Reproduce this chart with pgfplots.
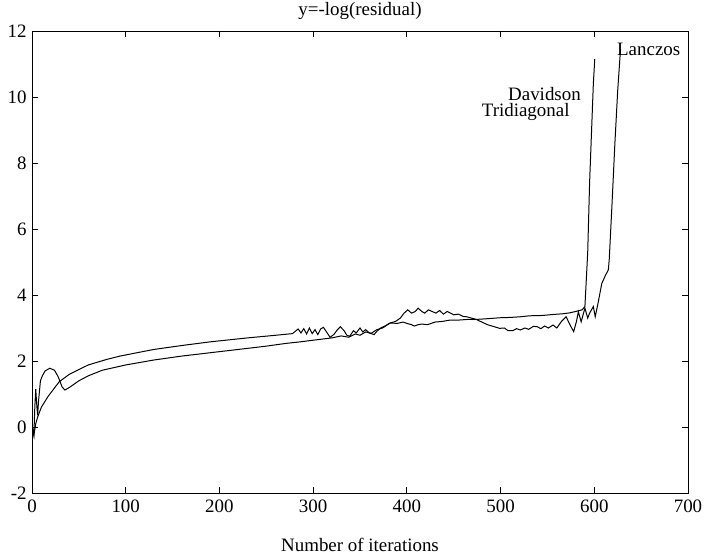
\documentclass[border=0pt]{standalone}
\usepackage{pgfplots}
\pgfplotsset{compat=1.18}
\usepackage{fontspec}
\setmainfont{Liberation Serif}
\begin{document}
\fontsize{9.5}{11}\selectfont
\begin{tikzpicture}
\begin{axis}[
  width=328bp, height=231bp, scale only axis,
  xmin=0, xmax=700, ymin=-2, ymax=12,
  clip mode=individual,
  xtick={0,100,...,700}, ytick={-2,0,...,12},
  xticklabel={\pgfmathprintnumber{\tick}},
  yticklabel={\pgfmathprintnumber{\tick}},
  tick align=inside, major tick length=3bp,
  axis line style={black, line width=0.5pt},
  every tick/.style={black, line width=0.5pt},
  /pgf/number format/assume math mode=true,
  tick label style={font=\fontsize{9.5}{11}\selectfont\rmfamily},
  xticklabel style={anchor=north, inner sep=0pt, yshift=-3.5bp},
  yticklabel style={anchor=east, inner sep=0pt, xshift=-2.5bp},
]
\addplot[black, line width=0.5pt] coordinates {
(0,0.05)(1,-0.1)(2,-0.25)(3,0.6)(4,1.15)(5,0.7)(6,0.35)(7,0.8)(9,1.4)(11,1.55)
(14,1.7)(19,1.78)(24,1.72)(28,1.52)(32,1.22)(35,1.12)(40,1.2)(50,1.4)(60,1.55)
(75,1.72)(100,1.88)(130,2.03)(160,2.15)(190,2.25)(220,2.35)(250,2.45)(270,2.53)
(286,2.58)(300,2.63)(320,2.7)(330,2.76)(338,2.72)(345,2.82)(350,2.78)(356,2.88)
(362,2.84)(368,2.95)(374,3.0)(382,3.15)(390,3.14)(396,3.18)(400,3.14)(405,3.1)
(408,3.06)(412,3.1)(416,3.12)(422,3.1)(430,3.18)(438,3.2)(446,3.24)(455,3.24)
(465,3.26)(474,3.26)(485,3.28)(499,3.31)(510,3.32)(521,3.34)(531,3.37)(545,3.38)
(556,3.41)(566,3.43)(574,3.46)(580,3.5)(587,3.55)(590,3.65)(593,5.3)(595,7.4)
(597,8.9)(599,10.4)(600.5,11.15)
};
\addplot[black, line width=0.5pt] coordinates {
(0,0.1)(1,-0.1)(2,-0.25)(4,0.1)(6,0.3)(10,0.6)(17,0.92)(29,1.37)(40,1.6)(60,1.88)
(80,2.05)(94,2.15)(130,2.35)(160,2.47)(190,2.58)(230,2.7)(260,2.78)(278,2.83)
(281,2.9)(284,2.97)(287,2.85)(290,2.98)(293,2.82)(296,3.0)(299,2.83)(302,2.95)
(305,2.8)(308,2.97)(311,3.02)(315,2.85)(318,2.72)(322,2.8)(326,2.95)(329,3.04)
(333,2.92)(336,2.78)(339,2.75)(343,2.92)(346,2.85)(350,3.0)(353,2.88)(356,2.95)
(360,2.85)(365,2.8)(368,2.9)(372,3.0)(376,3.05)(382,3.15)(388,3.2)(393,3.3)
(397,3.45)(401,3.55)(405,3.45)(409,3.5)(412,3.6)(416,3.5)(419,3.45)(423,3.55)
(427,3.5)(431,3.45)(435,3.53)(439,3.42)(443,3.5)(446,3.46)(450,3.4)(455,3.42)
(460,3.35)(464,3.34)(469,3.3)(474,3.26)(480,3.18)(486,3.1)(492,3.05)(499,2.99)
(504,3.0)(508,2.92)(513,2.92)(517,2.98)(521,2.94)(526,3.0)(530,2.96)(535,3.05)
(539,3.04)(543,2.98)(547,3.06)(551,3.0)(556,3.09)(560,3.0)(565,3.2)(570,3.34)
(574,3.1)(578,2.89)(581,3.2)(583,3.49)(586,3.19)(590,3.6)(593,3.3)(595,3.45)
(599,3.65)(601,3.34)(604,3.75)(608,4.35)(612,4.6)(615,4.76)(616,5.1)(619,6.8)
(622,8.6)(625,10.2)(628,11.45)
};
\node[anchor=base west, inner sep=0pt] at (axis cs:624,11.27) {Lanczos};
\node[anchor=base east, inner sep=0pt] at (axis cs:586,9.9) {Davidson};
\node[anchor=base east, inner sep=0pt] at (axis cs:574,9.4) {Tridiagonal};
\node[anchor=base, inner sep=0pt] at (rel axis cs:0.5,1) [yshift=7.5bp] {y=-log(residual)};
\node[anchor=base, inner sep=0pt] at (rel axis cs:0.5,0) [yshift=-29bp] {Number of iterations};
\end{axis}
\pgfresetboundingbox
\useasboundingbox ([shift={(-16bp,-32.5bp)}]current axis.south west) rectangle ([shift={(8bp,15.5bp)}]current axis.north east);
\end{tikzpicture}
\end{document}
